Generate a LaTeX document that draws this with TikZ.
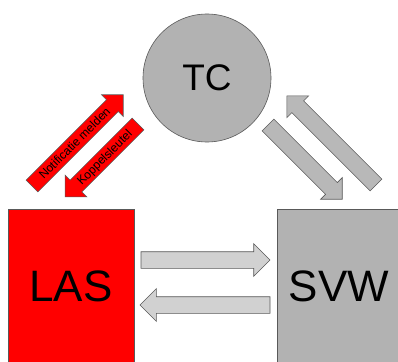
\documentclass[tikz,border=0pt]{standalone}
\usepackage{fontspec}
\setmainfont{Liberation Sans}
\usetikzlibrary{shapes.arrows}

\begin{document}
\begin{tikzpicture}[x=1pt,y=-1pt,line width=.6pt,
    blokpijl/.style={single arrow,draw=black!65,inner sep=0pt,outer sep=0pt,
      text height=12pt,text depth=4pt,single arrow head extend=7pt,single arrow tip angle=90,
      font=\fontsize{12}{12}\selectfont},
    rodepijl/.style={blokpijl,fill=red},
    grijspijl/.style={blokpijl,fill=black!28},
    lichtpijl/.style={blokpijl,fill=black!18,single arrow head extend=8pt},
    systeem/.style={draw=black!65,inner sep=0pt,font=\fontsize{44}{44}\selectfont}]

      \clip (0,0) rectangle (398,361);

      \path (207,78)  node[draw=black!65,fill=black!30,shape=circle,minimum size=128,
                           font=\fontsize{37}{37}\selectfont] (TC) {TC};
      \path (71,286)  node[systeem,fill=red,minimum width=126,minimum height=154] (LAS) {LAS};
      \path (339,286) node[systeem,fill=black!30,minimum width=124,minimum height=154] (SVW) {SVW};

      \path (32,186)  node[rodepijl,anchor=tail,rotate=45,minimum height=129] (melden) {Notificatie melden};
      \path (138,124) node[rodepijl,anchor=tail,rotate=45,shape border rotate=180,minimum height=103] (sleutel) {Koppelsleutel};

      \path (268,125) node[grijspijl,anchor=tail,rotate=-45,minimum height=105] (naarSVW) {};
      \path (376,185) node[grijspijl,anchor=tail,rotate=135,minimum height=126] (naarTC) {};

      \path (141,260) node[lichtpijl,anchor=tail,minimum height=129] (heen) {};
      \path (270,305) node[lichtpijl,anchor=tail,rotate=180,minimum height=130] (terug) {};

\end{tikzpicture}
\end{document}
